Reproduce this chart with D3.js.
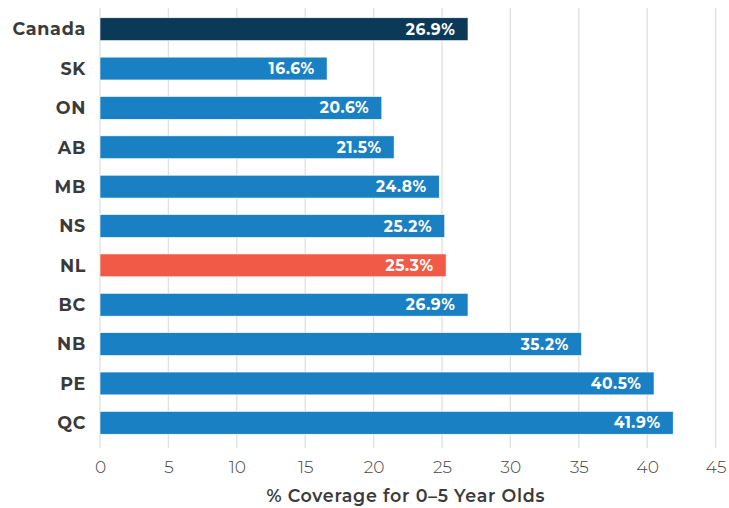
<!DOCTYPE html>
<html><head><meta charset="utf-8">
<script src="https://cdn.jsdelivr.net/npm/d3@7"></script>
<style>body{margin:0;background:#fff}svg{display:block}</style>
</head><body><svg id="c" width="729" height="508"></svg>
<script>
const categories = ["Canada","SK","ON","AB","MB","NS","NL","BC","NB","PE","QC"];
const values = [26.9,16.6,20.6,21.5,24.8,25.2,25.3,26.9,35.2,40.5,41.9];
const tickValues = [0,5,10,15,20,25,30,35,40,45];
const axisTitle = "% Coverage for 0–5 Year Olds";

const svg = d3.select("#c");
const x = d3.scaleLinear().domain([0,45]).range([100,715.6]);
const y = d3.scaleBand().domain(categories).range([9.5,442.5]).paddingInner(0.42).paddingOuter(0.21);
const font = "Montserrat, 'Open Sans', Lato, sans-serif";

// gridlines
svg.append("g").selectAll("line").data(tickValues).join("line")
  .attr("x1",d=>x(d)).attr("x2",d=>x(d)).attr("y1",8).attr("y2",448)
  .attr("stroke","#e2e0dc").attr("stroke-width",1.3);

const color = c => c==="Canada" ? "#0b3a59" : c==="NL" ? "#f05a46" : "#1a80c4";
const data = categories.map((c,i)=>({c, v: values[i]}));

svg.append("g").selectAll("rect").data(data).join("rect")
  .attr("x",x(0)).attr("y",d=>y(d.c)).attr("width",d=>x(d.v)-x(0)).attr("height",y.bandwidth())
  .attr("fill",d=>color(d.c)).attr("stroke","#fff").attr("stroke-width",0.6);

svg.append("g").selectAll("text").data(data).join("text")
  .attr("x",d=>x(d.v)-12.5).attr("y",d=>y(d.c)+y.bandwidth()/2).attr("dy","0.36em")
  .attr("text-anchor","end").attr("fill","#fff").attr("font-family",font)
  .attr("font-weight",700).attr("font-size",15.5).attr("letter-spacing",0.6).text(d=>d.v.toFixed(1)+"%");

// category labels
svg.append("g").selectAll("text").data(categories).join("text")
  .attr("x",86).attr("y",d=>y(d)+y.bandwidth()/2).attr("dy","0.36em")
  .attr("text-anchor","end").attr("fill","#3a3a3a").attr("font-family",font)
  .attr("font-weight",700).attr("font-size",17.5).attr("letter-spacing",0.7).text(d=>d);

// x axis
const ax = svg.append("g").attr("transform","translate(0,448)")
  .call(d3.axisBottom(x).tickValues(tickValues).tickSize(0).tickPadding(13));
ax.select(".domain").remove();
ax.selectAll("text").attr("font-family",font).attr("font-size",17).attr("font-weight",300).attr("fill","#444");

svg.append("text").attr("x",(x(0)+x(45))/2 - 2).attr("y",502)
  .attr("text-anchor","middle").attr("font-family",font).attr("font-weight",600)
  .attr("font-size",17.5).attr("letter-spacing",0.7).attr("fill","#3a3a3a").text(axisTitle);
</script></body></html>
